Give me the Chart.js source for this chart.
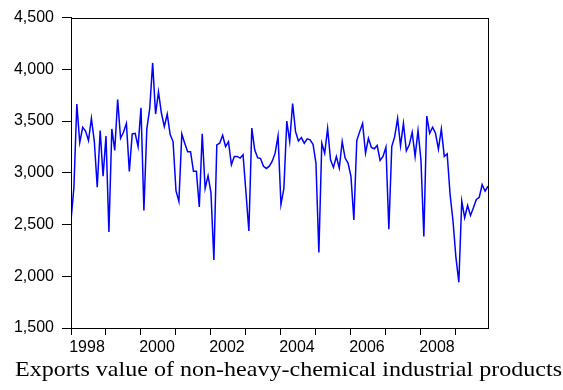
<!DOCTYPE html>
<html>
<head>
<meta charset="utf-8">
<script src="https://cdn.jsdelivr.net/npm/chart.js@4/dist/chart.umd.min.js"></script>
<style>
  html, body { margin: 0; padding: 0; background: #fff; }
  #wrap { width: 563px; height: 390px; position: relative; }
</style>
</head>
<body>
<div id="wrap"><canvas id="chartLine"></canvas></div>
<script>
// monthly series, 1998M01 .. 2009M12
const startYear = 1998;
const exportsValue = [
  2540, 2860, 3664, 3292, 3440, 3404, 3312, 3526, 3302, 2860, 3408, 2966,
  3356, 2428, 3424, 3216, 3708, 3334, 3392, 3478, 3014, 3376, 3382, 3254,
  3628, 2636, 3424, 3622, 4062, 3568, 3782, 3578, 3446, 3568, 3370, 3302,
  2828, 2724, 3374, 3286, 3204, 3204, 3014, 3014, 2670, 3378, 2850, 2972,
  2806, 2158, 3270, 3286, 3362, 3254, 3300, 3078, 3158, 3158, 3142, 3174,
  2810, 2438, 3432, 3222, 3146, 3138, 3062, 3042, 3064, 3112, 3190, 3356,
  2694, 2848, 3500, 3302, 3670, 3398, 3308, 3340, 3286, 3328, 3318, 3276,
  3094, 2230, 3286, 3190, 3430, 3126, 3052, 3158, 3046, 3302, 3142, 3094,
  2966, 2544, 3312, 3398, 3478, 3190, 3334, 3244, 3232, 3264, 3120, 3158,
  3248, 2454, 3254, 3350, 3526, 3260, 3478, 3212, 3270, 3392, 3158, 3408,
  3126, 2384, 3548, 3382, 3440, 3382, 3228, 3424, 3158, 3184, 2790, 2534,
  2182, 1942, 2726, 2566, 2684, 2588, 2662, 2742, 2764, 2886, 2822, 2870
];
const yearTicks = [1998, 1999, 2000, 2001, 2002, 2003, 2004, 2005, 2006, 2007, 2008, 2009];
const yearLabels = ["1998", "", "2000", "", "2002", "", "2004", "", "2006", "", "2008", ""];
const yTicks = [1500, 2000, 2500, 3000, 3500, 4000, 4500];
const caption = "Exports value of non-heavy-chemical industrial products";

const points = exportsValue.map((v, i) => ({ x: i, y: v }));

// kotak bingkai + judul bawah
const framePlugin = {
  id: "frame",
  afterDraw(chart) {
    const { ctx, chartArea: a } = chart;
    ctx.save();
    ctx.strokeStyle = "#000";
    ctx.lineWidth = 1;
    ctx.strokeRect(Math.round(a.left) + 0.5, Math.round(a.top) + 0.5,
      Math.round(a.right - a.left), Math.round(a.bottom - a.top));
    ctx.fillStyle = "#000";
    ctx.font = "21px 'Liberation Serif'";
    ctx.textAlign = "center";
    ctx.textBaseline = "alphabetic";
    // lebar teks dibuat sama dengan gambar asli (~547px)
    const w = ctx.measureText(caption).width;
    ctx.translate(288.5, 376);
    ctx.scale(547 / w, 1);
    ctx.fillText(caption, 0, 0);
    ctx.restore();
  }
};

new Chart(document.getElementById("chartLine"), {
  type: "line",
  data: {
    datasets: [{
      data: points,
      borderColor: "#0000ff",
      borderWidth: 1.5,
      pointRadius: 0,
      tension: 0,
      fill: false
    }]
  },
  options: {
    responsive: true,
    maintainAspectRatio: false,
    animation: false,
    layout: { padding: { left: 0, right: 75, top: 15, bottom: 0 } },
    plugins: { legend: { display: false }, tooltip: { enabled: false } },
    scales: {
      x: {
        type: "linear",
        min: 0,
        max: exportsValue.length - 1,
        afterBuildTicks: (s) => { s.ticks = yearTicks.map((y) => ({ value: (y - startYear) * 12 })); },
        afterFit: (s) => { s.height = 62; },
        grid: { drawOnChartArea: false, drawTicks: true, tickLength: 7, color: "#000" },
        border: { display: true, color: "#000" },
        ticks: {
          autoSkip: false,
          maxRotation: 0,
          labelOffset: 16,
          padding: 3,
          color: "#000",
          font: { family: "'Liberation Sans'", size: 16 },
          callback: (v) => yearLabels[yearTicks.indexOf(startYear + v / 12)]
        }
      },
      y: {
        min: 1500,
        max: 4500,
        afterBuildTicks: (s) => { s.ticks = yTicks.map((v) => ({ value: v })); },
        afterFit: (s) => { s.width = 71; },
        grid: { drawOnChartArea: false, drawTicks: true, tickLength: 9, color: "#000" },
        border: { display: true, color: "#000" },
        ticks: {
          padding: 8,
          color: "#000",
          font: { family: "'Liberation Sans'", size: 16 },
          callback: (v) => v.toLocaleString("en-US")
        }
      }
    }
  },
  plugins: [framePlugin]
});
</script>
</body>
</html>
